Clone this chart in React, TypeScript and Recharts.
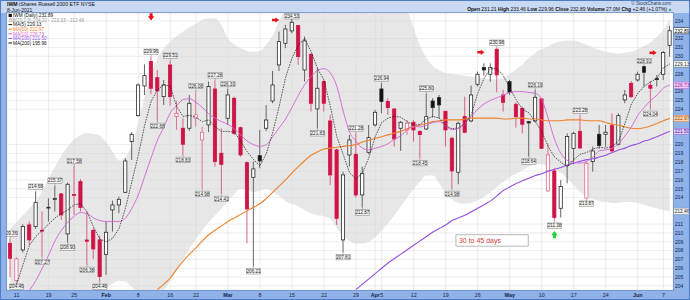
import React from 'react';
import {
  ComposedChart, Bar, Line, Area, Scatter, XAxis, YAxis, CartesianGrid,
  ReferenceLine, ReferenceArea,
} from 'recharts';

// ---------------- data ----------------
const openP = [
  208.83, 204.60, 208.08, 210.91, 210.72, 210.30, 212.85, 213.85, 214.42, 209.89,
  214.35, 215.81, 209.20, 210.30, 209.21, 207.58, 212.60, 213.17, 214.60, 220.34,
  223.28, 226.64, 229.40, 227.58, 225.43, 229.02, 223.17, 221.85, 221.85, 222.98,
  220.53, 222.23, 226.30, 219.02, 222.98, 225.25, 221.92, 217.96, 216.30, 218.75,
  221.85, 224.94, 229.02, 231.47, 232.87, 233.47, 228.45, 230.23, 224.04, 227.13,
  222.68, 219.40, 209.21, 218.83, 218.91, 214.30, 219.13, 222.23, 226.30, 224.87,
  224.04, 221.85, 221.66, 222.53, 221.51, 221.77, 224.94, 225.32, 223.77, 220.72,
  216.87, 223.17, 222.68, 226.83, 228.72, 227.96, 230.79, 225.62, 227.13, 224.57,
  224.11, 222.60, 222.68, 225.17, 214.75, 217.02, 212.79, 217.62, 219.58, 221.51,
  213.95, 218.08, 221.17, 221.17, 222.15, 220.04, 225.06, 226.94, 227.32, 228.83,
  226.72, 227.47, 227.96, 231.21,
];
const highP = [
  209.36, 207.25, 210.98, 211.28, 214.68, 212.42, 213.92, 215.37, 214.50, 215.70,
  217.58, 216.11, 212.42, 210.53, 209.70, 211.28, 213.66, 214.11, 218.45, 221.40,
  226.94, 229.09, 229.96, 228.45, 227.32, 229.51, 224.94, 222.98, 225.62, 226.08,
  222.04, 227.13, 227.28, 221.85, 226.30, 225.43, 222.04, 218.08, 218.08, 221.66,
  224.49, 228.34, 232.79, 233.55, 234.53, 233.55, 232.23, 230.30, 228.64, 227.30,
  223.36, 219.55, 216.94, 221.09, 221.28, 217.51, 222.23, 223.92, 226.94, 225.25,
  224.10, 222.68, 222.79, 222.79, 221.60, 225.80, 225.25, 225.62, 223.85, 220.91,
  222.60, 225.43, 226.68, 228.26, 229.21, 229.21, 230.98, 226.19, 227.32, 224.79,
  224.30, 222.68, 226.19, 225.30, 220.15, 217.32, 216.00, 221.28, 221.47, 223.28,
  218.08, 219.77, 222.23, 222.23, 223.55, 223.55, 226.19, 227.20, 228.26, 228.91,
  227.20, 227.89, 230.60, 233.46,
];
const lowP = [
  205.00, 204.46, 207.81, 208.64, 210.45, 207.27, 211.28, 212.42, 211.47, 208.90,
  212.04, 212.42, 206.38, 207.06, 204.46, 205.25, 210.15, 212.23, 214.50, 218.26,
  223.17, 225.62, 225.70, 222.68, 224.49, 224.42, 221.66, 218.83, 221.55, 222.04,
  214.98, 221.40, 217.51, 214.41, 222.23, 221.09, 218.64, 208.83, 206.21, 217.32,
  221.55, 224.68, 228.34, 230.91, 232.60, 229.02, 227.13, 223.74, 221.83, 223.74,
  215.43, 210.91, 207.81, 217.51, 214.00, 212.87, 218.91, 222.04, 223.55, 223.36,
  219.77, 219.28, 221.09, 220.34, 218.45, 221.66, 223.06, 222.98, 219.77, 214.98,
  215.51, 221.28, 222.53, 226.57, 227.81, 227.13, 225.92, 223.74, 225.62, 221.92,
  221.28, 218.64, 222.53, 219.50, 214.68, 211.38, 211.74, 215.62, 217.77, 219.51,
  213.87, 216.94, 219.51, 219.77, 219.13, 219.89, 224.68, 225.25, 227.13, 226.57,
  224.04, 226.57, 227.32, 229.96,
];
const closeP = [
  207.13, 207.06, 210.72, 209.21, 213.47, 210.26, 212.91, 213.89, 212.04, 215.51,
  214.30, 212.87, 209.06, 208.19, 205.06, 210.08, 213.17, 213.81, 218.15, 221.17,
  226.75, 227.81, 226.38, 226.08, 226.75, 225.43, 223.55, 220.04, 224.68, 223.36,
  221.40, 226.57, 218.08, 217.77, 225.62, 221.28, 218.83, 212.72, 217.25, 218.15,
  222.79, 226.75, 231.66, 233.09, 233.85, 229.96, 231.74, 224.68, 226.38, 224.68,
  216.57, 211.66, 216.57, 220.53, 214.30, 216.75, 220.79, 223.66, 224.87, 224.19,
  220.64, 222.53, 222.42, 221.66, 221.13, 223.17, 224.19, 224.49, 221.66, 217.02,
  222.42, 221.40, 225.62, 227.96, 228.45, 228.72, 227.89, 224.79, 225.92, 223.17,
  222.30, 222.45, 225.36, 219.58, 218.83, 211.74, 215.25, 220.91, 221.28, 219.62,
  217.89, 219.28, 219.89, 221.40, 219.28, 223.28, 225.62, 225.43, 227.96, 228.19,
  226.38, 227.36, 230.43, 232.89,
];

const tickIdx = [1, 6, 10, 15, 20, 25, 29, 34, 39, 44, 49, 54, 57, 58, 63, 68, 73, 78, 83, 88, 93, 98, 102];
const tickText = ['11', '19', '25', 'Feb', '8', '16', '22', 'Mar', '8', '15', '22', '29', 'Apr', '5', '12', '19', '26', 'May', '10', '17', '24', 'Jun', '7'];
const monthNames = ['Feb', 'Mar', 'Apr', 'May', 'Jun'];
const yTicks = [204, 205, 206, 207, 208, 209, 210, 211, 212, 213, 214, 215, 216, 217, 218, 219, 220, 221, 222, 223, 224, 225, 226, 227, 228, 229, 230, 231, 232, 233, 234];

const bbUpper = [
  210.5, 211.2, 212.0, 212.8, 213.5, 214.8, 216.2, 217.5, 218.8, 219.8,
  220.6, 221.1, 221.3, 221.2, 221.0, 220.2, 219.2, 218.2, 218.6, 220.0,
  222.5, 225.5, 228.0, 229.8, 230.9, 231.7, 232.3, 232.8, 233.3, 233.7,
  234.1, 234.3, 234.3, 233.5, 232.0, 231.3, 230.9, 230.6, 230.5, 230.6,
  231.3, 232.4, 234.0, 235.5, 237.0, 238.0, 238.6, 238.8, 238.8, 238.7,
  238.6, 238.6, 238.5, 238.2, 237.8, 237.5, 237.2, 236.8, 236.3, 235.8,
  235.4, 235.2, 235.0, 233.2, 231.2, 229.8, 228.9, 228.4, 228.1, 228.0,
  227.9, 227.8, 227.7, 227.6, 227.5, 227.4, 227.4, 227.6, 228.0, 228.5,
  229.1, 229.8, 230.4, 230.8, 231.1, 231.5, 231.7, 231.8, 231.8, 231.6,
  231.3, 231.0, 230.7, 230.5, 230.4, 230.3, 230.4, 230.5, 230.8, 231.2,
  231.6, 232.2, 233.0, 234.2,
];
const bbLower = [
  201.5, 201.3, 201.0, 200.8, 200.5, 200.3, 200.2, 200.5, 201.0, 201.6,
  202.3, 202.9, 203.3, 203.5, 203.5, 203.8, 204.3, 204.6, 204.5, 203.9,
  203.2, 202.8, 202.8, 203.0, 203.6, 204.6, 205.8, 207.0, 208.2, 209.3,
  210.3, 211.2, 212.0, 212.8, 213.6, 214.4, 215.0, 214.9, 214.6, 214.8,
  215.0, 214.6, 214.2, 213.6, 213.3, 213.0, 212.6, 212.2, 212.0, 211.9,
  211.6, 210.6, 209.6, 209.1, 208.8, 208.8, 209.0, 209.5, 210.3, 211.1,
  212.0, 213.0, 214.0, 215.0, 215.8, 216.5, 216.5, 215.6, 214.5, 213.8,
  213.4, 213.3, 213.4, 213.7, 214.1, 214.6, 215.2, 215.8, 216.3, 216.7,
  217.1, 217.5, 217.8, 217.8, 217.5, 217.2, 216.8, 216.2, 215.4, 214.6,
  214.1, 213.8, 213.6, 213.5, 213.4, 213.4, 213.5, 213.5, 213.4, 213.2,
  213.0, 212.8, 212.6, 212.46,
];

const ma5Start = 1;
const ma5 = [
  204.2, 206.4, 208.6, 209.6, 210.3, 211.0, 211.7, 212.2, 212.6, 213.2,
  213.3, 212.4, 210.7, 209.3, 209.0, 209.4, 210.5, 212.8, 215.8, 218.8,
  222.2, 224.9, 226.2, 226.8, 226.6, 224.3, 223.2, 223.3, 223.1, 222.6,
  222.8, 222.0, 221.5, 221.5, 221.4, 220.4, 219.2, 218.3, 217.6, 219.0,
  221.4, 224.3, 227.6, 229.8, 231.3, 232.0, 230.5, 228.6, 227.3, 224.3,
  220.9, 218.9, 216.8, 216.1, 216.8, 218.5, 220.9, 222.5, 223.0, 223.2,
  223.1, 222.6, 222.2, 222.3, 222.9, 223.2, 223.0, 222.1, 221.8, 221.9,
  222.4, 223.4, 225.8, 227.5, 228.6, 228.6, 227.8, 226.4, 225.1, 224.0,
  223.6, 222.6, 221.5, 219.8, 218.6, 218.0, 217.5, 218.3, 218.9, 219.1,
  219.5, 219.7, 219.6, 219.8, 220.4, 222.4, 224.6, 225.8, 226.6, 227.1,
  227.5, 228.7, 229.13,
];
const ma10Start = 3;
const ma10 = [
  203.5, 204.6, 206.0, 207.5, 209.1, 210.3, 211.2, 211.9, 212.3, 212.2,
  211.7, 211.4, 211.3, 211.3, 211.3, 211.7, 212.8, 214.3, 216.4, 218.5,
  220.5, 222.0, 223.6, 224.4, 225.1, 225.2, 224.8, 224.2, 223.5, 223.0,
  222.6, 222.3, 221.8, 221.1, 220.4, 220.0, 219.8, 220.0, 220.9, 221.9,
  222.9, 224.2, 225.6, 226.8, 227.7, 228.4, 228.6, 228.1, 226.6, 223.8,
  221.4, 220.4, 219.6, 219.4, 219.6, 219.8, 220.1, 220.6, 221.0, 221.7,
  222.1, 222.0, 222.2, 222.5, 222.6, 222.1, 221.7, 221.8, 222.4, 223.2,
  224.0, 224.6, 225.0, 225.3, 225.6, 225.9, 226.0, 226.0, 225.9, 225.8,
  225.1, 223.0, 220.6, 219.0, 218.2, 218.0, 217.9, 218.1, 218.6, 219.3,
  219.4, 219.6, 220.1, 221.0, 222.0, 223.3, 224.2, 225.0, 225.6, 226.4,
  226.73,
];
const ma50Start = 23;
const ma50 = [
  203.6, 204.2, 204.9, 205.9, 206.8, 207.6, 208.3, 209.1, 209.8, 210.3,
  210.8, 211.3, 211.7, 212.1, 212.5, 212.9, 213.3, 213.9, 214.6, 215.3,
  216.0, 216.8, 217.5, 218.2, 218.8, 219.2, 219.5, 219.6, 219.7, 219.8,
  219.9, 220.0, 220.3, 220.5, 220.7, 220.9, 221.1, 221.3, 221.5, 221.8,
  222.0, 222.2, 222.4, 222.6, 222.7, 222.8, 222.8, 222.8, 222.9, 223.0,
  223.0, 223.0, 223.0, 223.0, 222.9, 222.9, 223.0, 223.0, 222.9, 222.9,
  222.8, 222.7, 222.7, 222.7, 222.8, 222.8, 222.8, 222.7, 222.7, 222.7,
  222.5, 222.3, 222.2, 222.0, 221.85, 221.8, 221.9, 222.1, 222.4, 222.7,
  222.97,
];
const ma100Start = 54;
const ma100 = [
  203.6, 204.2, 204.8, 205.4, 206.0, 206.6, 207.1, 207.6, 208.1, 208.6,
  209.1, 209.6, 210.1, 210.5, 210.9, 211.4, 211.7, 212.0, 212.4, 212.8,
  213.2, 213.6, 214.2, 214.8, 215.2, 215.6, 215.9, 216.2, 216.5, 216.7,
  217.0, 217.2, 217.4, 217.7, 217.9, 218.1, 218.3, 218.4, 218.6, 218.8,
  219.1, 219.4, 219.6, 219.9, 220.1, 220.4, 220.6, 220.9, 221.2, 221.5,
];
const ma200Last = 195.96;
const volumeText = '27.0M';

const highTags = [0, 4, 7, 10, 22, 25, 29, 32, 34, 44, 54, 58, 65, 76, 82, 89, 99];
const lowTags = [1, 5, 9, 12, 14, 23, 27, 30, 33, 38, 48, 52, 55, 64, 69, 81, 85, 90, 100];

const signalIdx = [22, 41.45, 73.5, 100.4, 85];
const signalPrice = [234.47, 234.1, 230.45, 230.4, 209.8];
const signalKind = ['down', 'right', 'right', 'right', 'up'];

const noteText = '30 to 45 days';
const noteIdx = [69.6, 80.9];
const notePrice = [208.5, 209.8];

// ---------------- layout / style ----------------
const W = 690;
const H = 300;
const PLOT_LEFT = 7;
const PLOT_TOP = 13;
const AXIS_W = 17;
const XAXIS_H = 10;
const PLOT_BOTTOM = H - XAXIS_H;
const FONT = "'Liberation Sans', Arial, sans-serif";
const STRIP = '#8fb2e8';
const RED = '#cf1446';
const RED_LIGHT = '#e2688a';
const C_MA5 = '#1a1a1a';
const C_MA10 = '#d264d4';
const C_MA50 = '#f0822c';
const C_MA100 = '#9450df';

// ---------------- tables for the library ----------------
const rows = openP.map((o, i) => ({
  i,
  o,
  h: highP[i],
  l: lowP[i],
  c: closeP[i],
  pc: i > 0 ? closeP[i - 1] : null,
  range: [lowP[i], highP[i]],
}));
const series = (start: number, vals: number[]) => vals.map((v, k) => ({ i: start + k, v }));
const bbRows = bbUpper.map((u, i) => ({ i, bb: [bbLower[i], u] }));
const tagRows = [
  ...highTags.map((i) => ({ i, v: highP[i], pos: 'a', text: highP[i].toFixed(2) })),
  ...lowTags.map((i) => ({ i, v: lowP[i], pos: 'b', text: lowP[i].toFixed(2) })),
];
const signalRows = signalIdx.map((i, k) => ({ i, v: signalPrice[k], kind: signalKind[k] }));

const last = (a: number[]) => a[a.length - 1];
const lastClose = last(closeP);
const prevClose = closeP[closeP.length - 2];
const chg = lastClose - prevClose;
const bbUp = last(bbUpper);
const bbLo = last(bbLower);
const bbMid = (bbUp + bbLo) / 2;

// ---------------- shapes ----------------
function CandleShape(props: any) {
  const { x, y, width, height, payload } = props;
  if (x == null || y == null || payload == null) return null;
  const { o, h, l, c, pc } = payload;
  const k = h > l ? height / (h - l) : 0;
  const yO = y + (h - o) * k;
  const yC = y + (h - c) * k;
  const up = pc != null && c >= pc;
  const hollow = c >= o;
  const cx = x + width / 2;
  let stroke: string, fill: string, wick: string;
  if (up) {
    stroke = '#2b2b2b';
    fill = hollow ? '#ffffff' : '#111111';
    wick = '#555555';
  } else {
    stroke = hollow ? RED_LIGHT : RED;
    fill = hollow ? '#ffffff' : RED;
    wick = hollow ? RED_LIGHT : '#d8507a';
  }
  const top = Math.min(yO, yC);
  const bh = Math.max(Math.abs(yO - yC), 0.8);
  return (
    <g>
      <line x1={cx} x2={cx} y1={y} y2={y + height} stroke={wick} strokeWidth={0.9} />
      <rect x={x + 0.4} y={top} width={width - 0.8} height={bh} fill={fill} stroke={stroke} strokeWidth={0.8} />
    </g>
  );
}

function TagShape(props: any) {
  const { cx, cy, payload } = props;
  if (cx == null || cy == null || payload == null) return null;
  const above = payload.pos === 'a';
  const w = 14.2;
  const hh = 5.4;
  const gap = 2.2;
  let mid = above ? cy - gap - hh / 2 : cy + gap + hh / 2;
  mid = Math.min(Math.max(mid, PLOT_TOP + hh / 2 + 0.6), PLOT_BOTTOM - hh / 2 - 0.2);
  const edge = above ? mid + hh / 2 : mid - hh / 2;
  return (
    <g>
      <line x1={cx} x2={cx} y1={cy} y2={edge} stroke="#7a7a7a" strokeWidth={0.5} />
      <rect x={cx - w / 2} y={mid - hh / 2} width={w} height={hh} fill="#f6f6f6" stroke="#7a7a7a" strokeWidth={0.5} />
      <text x={cx} y={mid + 1.7} textAnchor="middle" fontSize={4.6} fill="#222" fontFamily={FONT}>
        {payload.text}
      </text>
    </g>
  );
}

function SignalShape(props: any) {
  const { cx, cy, payload } = props;
  if (cx == null || cy == null || payload == null) return null;
  const kind = payload.kind;
  if (kind === 'down') {
    const pts = `${cx - 1.5},${cy - 3.6} ${cx + 1.5},${cy - 3.6} ${cx + 1.5},${cy - 0.6} ${cx + 3.2},${cy - 0.6} ${cx},${cy + 3.6} ${cx - 3.2},${cy - 0.6} ${cx - 1.5},${cy - 0.6}`;
    return <polygon points={pts} fill="#e3141c" />;
  }
  if (kind === 'up') {
    const pts = `${cx - 1.5},${cy + 3.6} ${cx + 1.5},${cy + 3.6} ${cx + 1.5},${cy + 0.6} ${cx + 3.2},${cy + 0.6} ${cx},${cy - 3.6} ${cx - 3.2},${cy + 0.6} ${cx - 1.5},${cy + 0.6}`;
    return <polygon points={pts} fill="#22d43a" />;
  }
  const pts = `${cx - 3.6},${cy - 1.2} ${cx - 0.2},${cy - 1.2} ${cx - 0.2},${cy - 2.6} ${cx + 3.6},${cy} ${cx - 0.2},${cy + 2.6} ${cx - 0.2},${cy + 1.2} ${cx - 3.6},${cy + 1.2}`;
  return <polygon points={pts} fill="#e3141c" />;
}

function XTick(props: any) {
  const { x, y, payload } = props;
  const k = tickIdx.indexOf(payload.value);
  const t = k >= 0 ? tickText[k] : '';
  const bold = monthNames.includes(t);
  return (
    <text x={x} y={y} dy={4.2} textAnchor="middle" fontSize={5.3} fontWeight={bold ? 700 : 400} fill="#13224a" fontFamily={FONT}>
      {t}
    </text>
  );
}

function AxisTag(props: any) {
  const { viewBox, text, bg, fg, border } = props;
  if (!viewBox) return null;
  const x = viewBox.x + viewBox.width;
  const y = viewBox.y;
  return (
    <g>
      <rect x={x + 0.5} y={y - 3.1} width={AXIS_W - 1} height={6.2} fill={bg} stroke={border} strokeWidth={0.5} />
      <text x={x + 1.6} y={y + 1.8} fontSize={4.9} fill={fg} fontFamily={FONT}>{text}</text>
    </g>
  );
}

function NoteLabel(props: any) {
  const { viewBox } = props;
  if (!viewBox) return null;
  return (
    <text x={viewBox.x + 3} y={viewBox.y + viewBox.height / 2 + 2.5} fontSize={7} fill="#d53a3a" fontFamily={FONT}>
      {noteText}
    </text>
  );
}

const axisTags = [
  { v: lastClose, bg: '#ffffff', fg: '#000000', border: '#000000' },
  { v: last(ma5), bg: '#ffffff', fg: '#222222', border: '#555555' },
  { v: last(ma10), bg: '#f4c8f4', fg: '#9a2c9a', border: C_MA10 },
  { v: last(ma50), bg: '#fbd4ae', fg: '#9a4a08', border: C_MA50 },
  { v: last(ma100), bg: '#dccbf7', fg: '#5d259f', border: C_MA100 },
  { v: bbLo, bg: '#eeeeee', fg: '#333333', border: '#999999' },
];
// axis tick labels hidden behind the value tags (as in the reference)
const shownTicks = yTicks.filter((t) => axisTags.every((a) => Math.abs(t - a.v) > 0.56));

const legendRows = [
  { text: `IWM (Daily) ${lastClose.toFixed(2)}`, color: '#111', swatch: 'box' },
  { text: `BB(20,2.0) ${bbUp.toFixed(2)} - ${bbMid.toFixed(2)} - ${bbLo.toFixed(2)}`, color: '#9a9a9a', swatch: 'none' },
  { text: `MA(5) ${last(ma5).toFixed(2)}`, color: C_MA5, swatch: 'line' },
  { text: `MA(50) ${last(ma50).toFixed(2)}`, color: C_MA50, swatch: 'line' },
  { text: `MA(10) ${last(ma10).toFixed(2)}`, color: C_MA10, swatch: 'line' },
  { text: `MA(100) ${last(ma100).toFixed(2)}`, color: C_MA100, swatch: 'line' },
  { text: `MA(200) ${ma200Last.toFixed(2)}`, color: '#111', swatch: 'line' },
];

export default function App() {
  const n = closeP.length;
  return (
    <div style={{ position: 'absolute', left: 0, top: 0, width: W, height: H, background: STRIP, overflow: 'hidden', fontFamily: FONT }}>
      <div style={{ position: 'absolute', left: 0, top: 0, width: W, height: PLOT_TOP, background: '#c9d9f3' }} />
      <div style={{ position: 'absolute', left: PLOT_LEFT, top: PLOT_TOP, width: W - PLOT_LEFT - AXIS_W, height: PLOT_BOTTOM - PLOT_TOP, background: '#ffffff' }} />
      <div style={{ position: 'absolute', left: 0, top: 0 }}>
        <ComposedChart
          width={W}
          height={H}
          data={rows}
          margin={{ top: PLOT_TOP, right: 0, bottom: 0, left: PLOT_LEFT }}
          barSize={4}
        >
          <CartesianGrid stroke="#e0e0e0" strokeWidth={0.6} />
          <XAxis
            dataKey="i"
            type="category"
            ticks={tickIdx}
            interval={0}
            tick={<XTick />}
            tickLine={false}
            axisLine={false}
            tickSize={0}
            tickMargin={3}
            height={XAXIS_H}
          />
          <XAxis xAxisId="num" dataKey="i" type="number" domain={[-0.5, n - 0.5]} hide allowDataOverflow />
          <YAxis
            orientation="right"
            domain={[203.54, 234.9]}
            ticks={shownTicks}
            interval={0}
            width={AXIS_W}
            tick={{ fontSize: 5, fill: '#16254a', fontFamily: FONT }}
            tickLine={false}
            axisLine={false}
            tickSize={0}
            tickMargin={2}
            allowDataOverflow
          />
          <Area
            xAxisId="num"
            data={bbRows}
            dataKey="bb"
            type="monotone"
            stroke="none"
            fill="#d3d3d3"
            fillOpacity={0.55}
            isAnimationActive={false}
            dot={false}
            activeDot={false}
          />
          <Bar dataKey="range" shape={(p: any) => <CandleShape {...p} />} isAnimationActive={false} />
          <Line xAxisId="num" data={series(ma50Start, ma50)} dataKey="v" type="monotone" stroke={C_MA50} strokeWidth={1.1} dot={false} activeDot={false} isAnimationActive={false} />
          <Line xAxisId="num" data={series(ma100Start, ma100)} dataKey="v" type="monotone" stroke={C_MA100} strokeWidth={1.1} dot={false} activeDot={false} isAnimationActive={false} />
          <Line xAxisId="num" data={series(ma10Start, ma10)} dataKey="v" type="monotone" stroke={C_MA10} strokeWidth={0.9} dot={false} activeDot={false} isAnimationActive={false} />
          <Line xAxisId="num" data={series(ma5Start, ma5)} dataKey="v" type="linear" stroke={C_MA5} strokeWidth={0.7} strokeDasharray="1.6 1" dot={false} activeDot={false} isAnimationActive={false} />
          <ReferenceArea
            xAxisId="num"
            x1={noteIdx[0]}
            x2={noteIdx[1]}
            y1={notePrice[0]}
            y2={notePrice[1]}
            fill="#ffffff"
            fillOpacity={1}
            stroke="#9c9c9c"
            strokeWidth={0.7}
            label={<NoteLabel />}
          />
          <Scatter xAxisId="num" data={tagRows} dataKey="v" shape={(p: any) => <TagShape {...p} />} isAnimationActive={false} />
          <Scatter xAxisId="num" data={signalRows} dataKey="v" shape={(p: any) => <SignalShape {...p} />} isAnimationActive={false} />
          {axisTags.map((t, k) => (
            <ReferenceLine
              key={k}
              y={t.v}
              stroke="none"
              label={<AxisTag text={t.v.toFixed(2)} bg={t.bg} fg={t.fg} border={t.border} />}
            />
          ))}
        </ComposedChart>
      </div>
      <svg width={W} height={H} style={{ position: 'absolute', left: 0, top: 0, pointerEvents: 'none' }}>
        <text x={7} y={5.8} fontSize={5.2} fill="#111" fontFamily={FONT}>
          <tspan fontWeight={700}>IWM</tspan> iShares Russell 2000 ETF  NYSE
        </text>
        <text x={7} y={11.6} fontSize={5} fill="#111" fontFamily={FONT}>8-Jun-2021</text>
        <text x={671} y={5.4} textAnchor="end" fontSize={4.6} fill="#2a3a66" fontFamily={FONT}>© StockCharts.com</text>
        <text x={667} y={11.4} textAnchor="end" fontSize={5} fill="#111" fontFamily={FONT}>
          <tspan fontWeight={700}>Open</tspan> {openP[n - 1].toFixed(2)} <tspan fontWeight={700}>High</tspan> {highP[n - 1].toFixed(2)}{' '}
          <tspan fontWeight={700}>Low</tspan> {lowP[n - 1].toFixed(2)} <tspan fontWeight={700}>Close</tspan> {lastClose.toFixed(2)}{' '}
          <tspan fontWeight={700}>Volume</tspan> {volumeText} <tspan fontWeight={700}>Chg</tspan> +{chg.toFixed(2)} (+{((chg / prevClose) * 100).toFixed(2)}%)
        </text>
        <polygon points="668.5,10.8 671.5,10.8 670,8.2" fill="#1aa33a" />
        {legendRows.map((r, k) => {
          const cy = 15.4 + k * 4.6;
          return (
            <g key={k}>
              {r.swatch === 'box' && <rect x={8.6} y={cy - 1.6} width={3.2} height={3.2} fill="#111" />}
              {r.swatch === 'line' && <line x1={8.4} x2={12.2} y1={cy} y2={cy} stroke={r.color} strokeWidth={1} />}
              <text x={r.swatch === 'none' ? 9 : 13} y={cy + 1.7} fontSize={4.7} fill={r.color} fontFamily={FONT}>
                {r.text}
              </text>
            </g>
          );
        })}
        <rect x={0.5} y={0.5} width={W - 1} height={H - 1} fill="none" stroke="#4f7cc8" strokeWidth={1} />
        <rect x={PLOT_LEFT - 0.5} y={PLOT_TOP - 0.5} width={W - PLOT_LEFT - AXIS_W + 1} height={PLOT_BOTTOM - PLOT_TOP + 1} fill="none" stroke="#6d8fc8" strokeWidth={0.8} />
      </svg>
    </div>
  );
}
